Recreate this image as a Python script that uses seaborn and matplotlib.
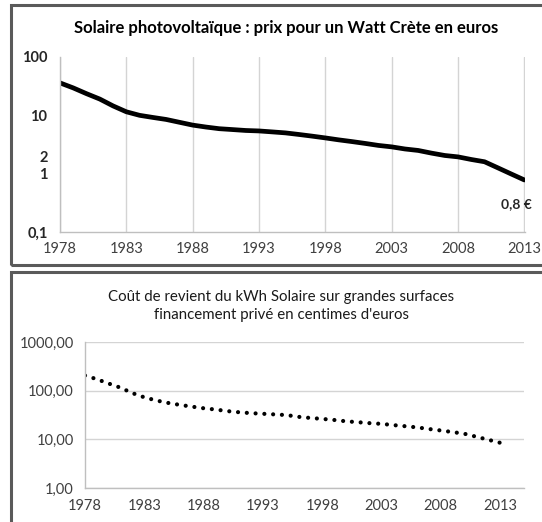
import matplotlib
matplotlib.use("Agg")
import matplotlib.pyplot as plt
import matplotlib.ticker as mticker
from matplotlib.patches import Rectangle
import seaborn as sns
import pandas as pd

# ---------------- data ----------------
years = list(range(1978, 2014))

# Top chart: price per Watt-peak (euros)
prix_wc = [36, 29.5, 23.5, 19, 14.5, 11.5, 10, 9.2, 8.5, 7.6,
           6.8, 6.3, 5.9, 5.7, 5.5, 5.4, 5.2, 5.0, 4.7, 4.4,
           4.1, 3.8, 3.55, 3.3, 3.05, 2.88, 2.65, 2.5, 2.25, 2.05,
           1.94, 1.75, 1.6, 1.26, 0.99, 0.78]

# Bottom chart: cost of kWh (euro cents)
cout_kwh = [205, 172, 140, 115, 89, 73, 63, 56, 51, 47,
            43.5, 41, 38, 36, 34.5, 33.5, 32.5, 31.5, 29, 27.5,
            26.3, 25, 23.5, 22.5, 21.5, 20.8, 19.6, 18.6, 17.6, 16.3,
            15.2, 14.1, 13, 11.3, 9.8, 8.5]

xtick_years = [1978, 1983, 1988, 1993, 1998, 2003, 2008, 2013]
top_yticks = [0.1, 1, 2, 10, 100]
top_ylabels = ["0,1", "1", "2", "10", "100"]
bot_yticks = [1, 10, 100, 1000]
bot_ylabels = ["1,00", "10,00", "100,00", "1000,00"]

title_top = "Solaire photovoltaïque : prix pour un Watt Crète en euros"
title_bot1 = "Coût de revient du kWh Solaire sur grandes surfaces"
title_bot2 = "financement privé en centimes d'euros"
annot_text = "0,8 €"

df_top = pd.DataFrame({"annee": years, "prix": prix_wc})
df_bot = pd.DataFrame({"annee": years, "cout": cout_kwh})

# ---------------- style ----------------
sns.set_style("white")
plt.rcParams["font.family"] = ["Lato", "DejaVu Sans"]

W, H = 542, 522
fig = plt.figure(figsize=(W / 100, H / 100), dpi=100)
fig.patch.set_facecolor("white")

def fx(px):
    return px / W

def fy(py):
    return 1 - py / H

grid_c = "#d4d4d4"
axis_c = "#bfbfbf"
text_c = "#404040"

# frames
fig.patches.append(Rectangle((fx(11), fy(265)), 1.2, (265 - 5) / H, transform=fig.transFigure,
                             fill=False, edgecolor="#5a5a5a", lw=2.2, clip_on=False))
fig.patches.append(Rectangle((fx(11), fy(540)), 1.2, (540 - 272) / H, transform=fig.transFigure,
                             fill=False, edgecolor="#5a5a5a", lw=2.2, clip_on=False))

# ---------------- top chart ----------------
ax1 = fig.add_axes([fx(60), fy(232), (525 - 60) / W, (232 - 57) / H])
sns.lineplot(data=df_top, x="annee", y="prix", ax=ax1, color="black", lw=3.4)
ax1.set_yscale("log")
ax1.set_ylim(0.1, 100)
ax1.set_xlim(1978, 2013.05)
ax1.set_xticks(xtick_years)
ax1.set_xticklabels([str(y) for y in xtick_years], fontsize=10.5, color=text_c)
ax1.set_yticks(top_yticks)
ax1.set_yticklabels(top_ylabels, fontsize=10.5, fontweight="bold", color="#262626")
ax1.yaxis.set_minor_locator(mticker.LogLocator(base=10, subs=range(2, 10)))
ax1.yaxis.set_minor_formatter(mticker.NullFormatter())
ax1.tick_params(axis="y", which="major", direction="inout", length=6, color=axis_c, pad=6)
ax1.tick_params(axis="y", which="minor", direction="in", length=3, color=axis_c)
ax1.tick_params(axis="x", which="major", direction="inout", length=8, color=axis_c, pad=3)
ax1.grid(True, axis="x", color=grid_c, lw=1)
ax1.grid(False, axis="y", which="both")
for s in ["top", "right"]:
    ax1.spines[s].set_visible(False)
for s in ["left", "bottom"]:
    ax1.spines[s].set_color(axis_c)
    ax1.spines[s].set_linewidth(1)
ax1.set_xlabel("")
ax1.set_ylabel("")
ax1.text(2012.4, 0.30, annot_text, ha="center", va="center", fontsize=10,
         fontweight="bold", color="#262626")

fig.text(fx(286), fy(28), title_top, ha="center", va="center", fontsize=12,
         fontweight="bold", color="black")

# ---------------- bottom chart ----------------
ax2 = fig.add_axes([fx(85), fy(488), (37 * 11.86) / W, (488 - 342) / H])
sns.lineplot(data=df_bot, x="annee", y="cout", ax=ax2, color="black", lw=3.0,
             linestyle=(0, (0.01, 2.1)), dash_capstyle="round")
ax2.set_yscale("log")
ax2.set_ylim(1, 1000)
ax2.set_xlim(1978, 2015)
ax2.set_xticks(xtick_years)
ax2.set_xticklabels([str(y) for y in xtick_years], fontsize=10.5, color=text_c)
ax2.set_yticks(bot_yticks)
ax2.set_yticklabels(bot_ylabels, fontsize=10.5, color=text_c)
ax2.yaxis.set_minor_locator(mticker.NullLocator())
ax2.tick_params(axis="both", which="major", direction="out", length=5, color=axis_c, pad=3)
ax2.grid(True, axis="y", color=grid_c, lw=1)
ax2.grid(False, axis="x")
for s in ["top", "right"]:
    ax2.spines[s].set_visible(False)
for s in ["left", "bottom"]:
    ax2.spines[s].set_color(axis_c)
    ax2.spines[s].set_linewidth(1)
ax2.set_xlabel("")
ax2.set_ylabel("")

fig.text(fx(281), fy(297), title_bot1, ha="center", va="center", fontsize=10.8, color="#1a1a1a")
fig.text(fx(281), fy(315), title_bot2, ha="center", va="center", fontsize=10.8, color="#1a1a1a")

fig.savefig("out.png", dpi=100)
